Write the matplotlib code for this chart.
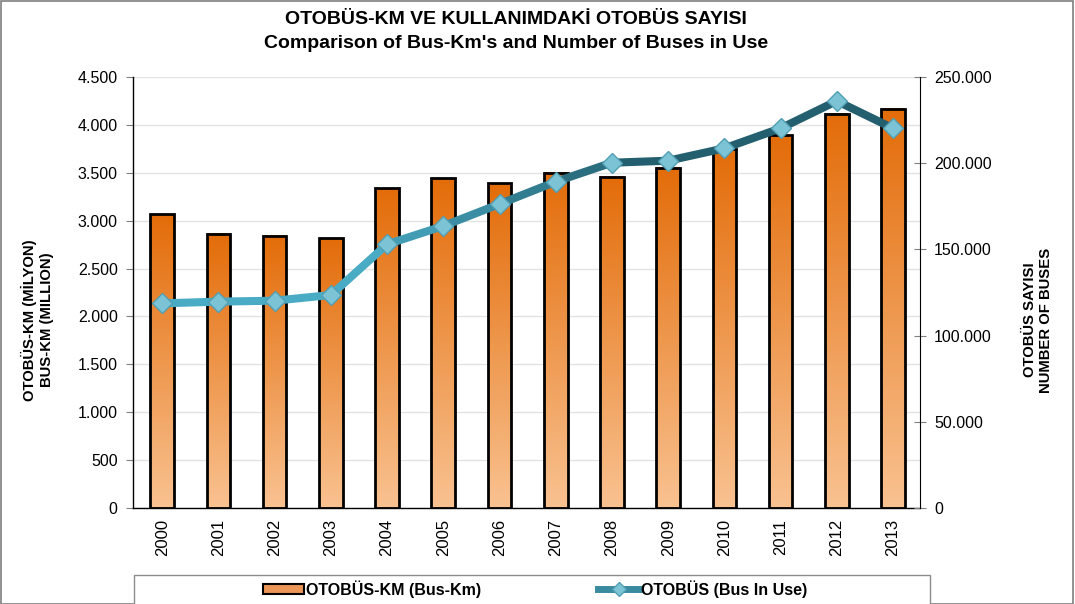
import numpy as np
import matplotlib
matplotlib.use("Agg")
import matplotlib.pyplot as plt
from matplotlib.colors import LinearSegmentedColormap, to_rgb
from matplotlib.collections import LineCollection
from matplotlib.lines import Line2D
from matplotlib.patches import Rectangle, Patch
from matplotlib.ticker import FuncFormatter, MultipleLocator

plt.rcParams['font.family'] = ['Liberation Sans', 'DejaVu Sans']

years = ['2000', '2001', '2002', '2003', '2004', '2005', '2006',
         '2007', '2008', '2009', '2010', '2011', '2012', '2013']
bus_km = [3069, 2861, 2840, 2819, 3341, 3445, 3393,
          3498, 3456, 3550, 3745, 3891, 4117, 4169]
buses = [118700, 119700, 120250, 123550, 152950, 163570, 176330,
         189270, 200290, 201450, 208640, 220240, 236080, 220240]

title1 = "OTOBÜS-KM VE KULLANIMDAKİ OTOBÜS SAYISI"
title2 = "Comparison of Bus-Km's and Number of Buses in Use"
ylabel_left = "OTOBÜS-KM (MİLYON)\nBUS-KM (MILLION)"
ylabel_right = "OTOBÜS SAYISI\nNUMBER OF BUSES"
legend_labels = ["OTOBÜS-KM (Bus-Km)", "OTOBÜS (Bus In Use)"]

W, H = 1075, 604
fig = plt.figure(figsize=(W / 100, H / 100), dpi=100)
ax = fig.add_axes([133 / W, 1 - 508 / H, (920 - 133) / W, (508 - 77) / H])

x = np.arange(len(years))
bw = 0.42
top_c = '#e36c09'
bot_c = '#f9c291'
cmap = LinearSegmentedColormap.from_list('og', [bot_c, top_c])
grad = np.linspace(0, 1, 256).reshape(-1, 1)
for xi, v in zip(x, bus_km):
    ax.imshow(grad, extent=[xi - bw / 2, xi + bw / 2, 0, v], origin='lower',
              cmap=cmap, aspect='auto', zorder=2, interpolation='bilinear')
ax.bar(x, bus_km, width=bw, facecolor='none', edgecolor='black', linewidth=2, zorder=3)

ax.set_xlim(-0.52, 13.48)
ax.set_ylim(0, 4500)
ax.yaxis.set_major_locator(MultipleLocator(500))
fmt = FuncFormatter(lambda v, p: f"{int(round(v)):,}".replace(',', '.'))
ax.yaxis.set_major_formatter(fmt)
ax.grid(axis='y', color='#e3e3e3', linewidth=1, zorder=0)
ax.set_axisbelow(True)
ax.set_xticks(x)
ax.set_xticklabels(years, rotation=90, fontsize=12)
ax.tick_params(axis='x', length=0, pad=8)
ax.tick_params(axis='y', length=5, color='#808080', labelsize=11.5, pad=6)
ax.spines['top'].set_visible(False)
ax.spines['right'].set_visible(False)
for s in ['left', 'bottom']:
    ax.spines[s].set_color('black')
    ax.spines[s].set_linewidth(1)

ax2 = ax.twinx()
ax2.set_ylim(0, 250000)
ax2.yaxis.set_major_locator(MultipleLocator(50000))
ax2.yaxis.set_major_formatter(fmt)
ax2.tick_params(axis='y', direction='inout', length=8, color='#808080', labelsize=11.5, pad=6)
for s in ['top', 'left', 'bottom']:
    ax2.spines[s].set_visible(False)
ax2.spines['right'].set_color('black')

# gradient line
c1 = np.array(to_rgb('#4aabc5'))
c2 = np.array(to_rgb('#235f6f'))
pts = np.column_stack([x, buses])
segs = [pts[i:i + 2] for i in range(len(x) - 1)]
cols = []
for i in range(len(x) - 1):
    t = np.clip(((i + 0.5) - 3.5) / 5.0, 0, 1)
    cols.append(tuple(c1 * (1 - t) + c2 * t))
lc = LineCollection(segs, colors=cols, linewidths=5.8, capstyle='round',
                    joinstyle='round', zorder=3)
ax2.add_collection(lc)
ax2.plot(x, buses, linestyle='none', marker='D', markersize=10,
         markerfacecolor='#7cc3d5', markeredgecolor='#529fb3', markeredgewidth=1, zorder=4)

fig.text(516 / W, 1 - 20 / H, title1, ha='center', va='center', fontsize=14, fontweight='bold')
fig.text(516 / W, 1 - 44 / H, title2, ha='center', va='center', fontsize=14, fontweight='bold')
fig.text(37.5 / W, 1 - 320 / H, ylabel_left, ha='center', va='center', rotation=90,
         fontsize=10.7, fontweight='bold', linespacing=1.2)
fig.text(1038 / W, 1 - 320 / H, ylabel_right, ha='center', va='center', rotation=90,
         fontsize=10.7, fontweight='bold', linespacing=1.2)

# legend box
fig.patches.append(Rectangle((134 / W, -0.02), (930 - 134) / W, (604 - 575) / H + 0.02,
                             transform=fig.transFigure, facecolor='white',
                             edgecolor='#8c8c8c', linewidth=1, zorder=1))
h1 = Patch(facecolor='#eb9556', edgecolor='black', linewidth=1.5)
h2 = Line2D([], [], color='#3a8aa0', linewidth=5, marker='D', markersize=7,
            markerfacecolor='#7cc3d5', markeredgecolor='#529fb3')
leg = fig.legend([h1, h2], legend_labels, loc='center', ncol=2,
                 bbox_to_anchor=(535 / W, 1 - 589 / H), frameon=False,
                 prop={'weight': 'bold', 'size': 11.5}, handlelength=2.6,
                 handleheight=0.6, handletextpad=0.1, columnspacing=7.3)

# figure border
fig.patches.append(Rectangle((0.0005, 0.0005), 0.998, 0.998, transform=fig.transFigure,
                             facecolor='none', edgecolor='#7f7f7f', linewidth=1.2, zorder=0))

fig.savefig('out.png', dpi=100)
